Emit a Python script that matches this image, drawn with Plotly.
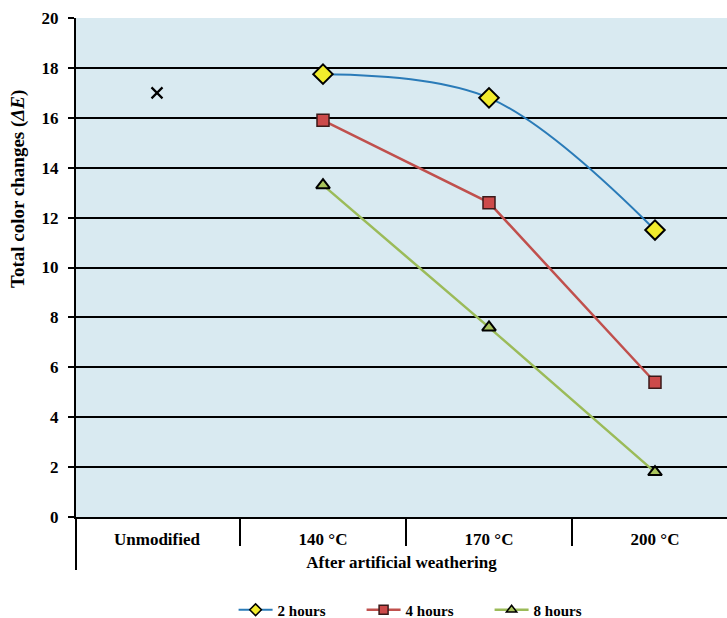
import plotly.graph_objects as go

categories = ["Unmodified", "140 °C", "170 °C", "200 °C"]
cat_pos = [0, 1, 2, 3]
unmodified_value = [17.0]
hours2 = [17.75, 16.8, 11.5]
hours4 = [15.9, 12.6, 5.4]
hours8 = [13.3, 7.6, 1.8]
y_ticks = [0, 2, 4, 6, 8, 10, 12, 14, 16, 18, 20]

FONT = "Liberation Serif"
fig = go.Figure()

fig.add_trace(go.Scatter(
    x=[cat_pos[0]], y=unmodified_value, mode="markers", showlegend=False,
    marker=dict(symbol="x-thin", size=11, line=dict(color="black", width=2.2))))

series = [
    ("2 hours", hours2, dict(color="#2a7bb8", width=2, shape="spline", smoothing=1.0),
     dict(symbol="diamond", color="#f2ec2c", line=dict(color="black", width=2)), 15),
    ("4 hours", hours4, dict(color="#c0504d", width=2.5),
     dict(symbol="square", color="#cc4a4a", line=dict(color="#3a1a1a", width=1.5)), 12),
    ("8 hours", hours8, dict(color="#9bbb59", width=2.5),
     dict(symbol="triangle-up", color="#a9c45c", line=dict(color="black", width=2)), 12),
]
for name, vals, line, mk, size in series:
    fig.add_trace(go.Scatter(
        x=cat_pos[1:], y=vals, mode="lines+markers", name=name, showlegend=False,
        line=line, marker=dict(size=size, **mk)))
for name, vals, line, mk, size in series:
    lg_line = dict(color=line["color"], width=line["width"])
    lg_mk = dict(mk)
    lg_mk["line"] = dict(mk["line"], width=1.5)
    fig.add_trace(go.Scatter(
        x=[None], y=[None], mode="lines+markers", name=name, showlegend=True,
        line=lg_line, marker=dict(size=9, **lg_mk)))

L, T, B = 76, 18, 101
W, H = 727, 618
pw = W - L
ph = H - T - B
span = pw / 166.0
x0 = -0.5 + 2 / 166.0

fig.update_layout(
    width=W, height=H,
    margin=dict(l=L, r=0, t=T, b=B, autoexpand=False),
    paper_bgcolor="white", plot_bgcolor="#d9eaf1",
    font=dict(family=FONT, color="black"),
    legend=dict(orientation="h", x=0.537, xanchor="center",
                yref="container", y=(H - 610) / H, yanchor="middle",
                font=dict(family=FONT, size=15, color="black", weight="bold"),
                itemwidth=34, entrywidth=79, entrywidthmode="pixels"),
    xaxis=dict(range=[x0, x0 + span], tickvals=cat_pos, ticktext=categories,
               ticks="", showgrid=False, zeroline=False, showline=True,
               linecolor="black", linewidth=2, ticklabelstandoff=6,
               automargin=False,
               tickfont=dict(family=FONT, size=17, weight="bold"),
               minor=dict(tickvals=[0.5, 1.5, 2.5], ticks="outside", ticklen=27,
                          tickwidth=2, tickcolor="black", showgrid=False),
               title=dict(text="After artificial weathering", standoff=8,
                          font=dict(family=FONT, size=17, weight="bold"))),
    yaxis=dict(range=[0, 20], tickvals=y_ticks, showgrid=True, gridcolor="black",
               gridwidth=2, zeroline=False, showline=True, linecolor="black",
               linewidth=2, ticks="outside", ticklen=6, tickwidth=2,
               tickcolor="black", ticklabelstandoff=6, automargin=False,
               tickfont=dict(family=FONT, size=17, weight="bold")),
)

# extension of the y axis line below the plot (multi-level category frame)
fig.add_shape(type="line", xref="paper", yref="paper", x0=0, x1=0,
              y0=0, y1=-(570 - (T + ph)) / ph, line=dict(color="black", width=2))

fig.add_annotation(text="Total color changes (<i>ΔE</i>)", textangle=-90,
                   xref="paper", yref="paper", x=(18 - L) / pw, y=(T + ph - 189) / ph,
                   xanchor="center", yanchor="middle", showarrow=False,
                   font=dict(family=FONT, size=19, weight="bold"))

fig.write_html("out.html", config={"displayModeBar": False},
               post_script="document.body.style.margin='0';"
                           "document.body.style.overflow='hidden';")
